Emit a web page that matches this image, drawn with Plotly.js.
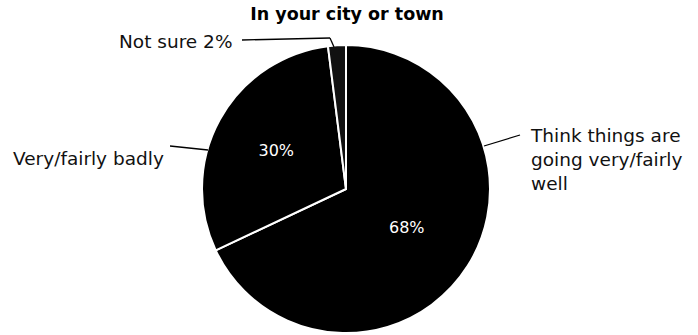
<!DOCTYPE html>
<html>
<head>
<meta charset="utf-8">
<script src="https://cdn.plot.ly/plotly-3.0.1.min.js"></script>
<style>html,body{margin:0;padding:0;background:#fff;}#chart{width:698px;height:335px;}</style>
</head>
<body>
<div id="chart"></div>
<script>
const categories = ["Think things are going very/fairly well", "Very/fairly badly", "Not sure"];
const values = [68, 30, 2];
const outsideLabels = ["Think things are<br>going very/fairly<br>well", "Very/fairly badly", "Not sure 2%"];
const chartTitle = "In your city or town";

const px = (x) => x / 698;
const py = (y) => 1 - y / 335;

const trace = {
  type: "pie",
  labels: categories,
  values: values,
  sort: false,
  direction: "clockwise",
  rotation: 0,
  texttemplate: "%{value}%",
  textposition: ["inside", "inside", "none"],
  insidetextorientation: "horizontal",
  insidetextfont: {family: "DejaVu Sans", size: 16, color: "#ffffff"},
  marker: {colors: ["#000000", "#000000", "#111111"], line: {color: "#ffffff", width: 2}},
  domain: {x: [px(202), px(490)], y: [py(333), py(45)]},
  hoverinfo: "label+percent"
};

const labelFont = {family: "DejaVu Sans", size: 18.5, color: "#111111"};

const layout = {
  width: 698, height: 335,
  margin: {l: 0, r: 0, t: 0, b: 0},
  paper_bgcolor: "#ffffff",
  showlegend: false,
  title: {text: "<b>" + chartTitle + "</b>", x: px(347), xanchor: "center", y: py(14), yanchor: "middle",
          font: {family: "DejaVu Sans", size: 17.5, color: "#000000"}},
  annotations: [
    {text: outsideLabels[2], xref: "paper", yref: "paper", x: px(234), y: py(41), xanchor: "right", yanchor: "middle", showarrow: false, font: labelFont},
    {text: outsideLabels[1], xref: "paper", yref: "paper", x: px(166), y: py(158), xanchor: "right", yanchor: "middle", showarrow: false, font: labelFont},
    {text: outsideLabels[0], xref: "paper", yref: "paper", x: px(528), y: py(123), xanchor: "left", yanchor: "top", align: "left", showarrow: false, font: labelFont}
  ],
  shapes: [
    {type: "line", xref: "paper", yref: "paper", x0: px(242), y0: py(40), x1: px(330), y1: py(38), line: {color: "#000", width: 1.3}},
    {type: "line", xref: "paper", yref: "paper", x0: px(330), y0: py(38), x1: px(334), y1: py(47), line: {color: "#000", width: 1.3}},
    {type: "line", xref: "paper", yref: "paper", x0: px(170), y0: py(146), x1: px(208), y1: py(150), line: {color: "#000", width: 1.3}},
    {type: "line", xref: "paper", yref: "paper", x0: px(484), y0: py(146), x1: px(520), y1: py(135), line: {color: "#000", width: 1.3}}
  ]
};

Plotly.newPlot("chart", [trace], layout, {displayModeBar: false, staticPlot: true});
</script>
</body>
</html>
